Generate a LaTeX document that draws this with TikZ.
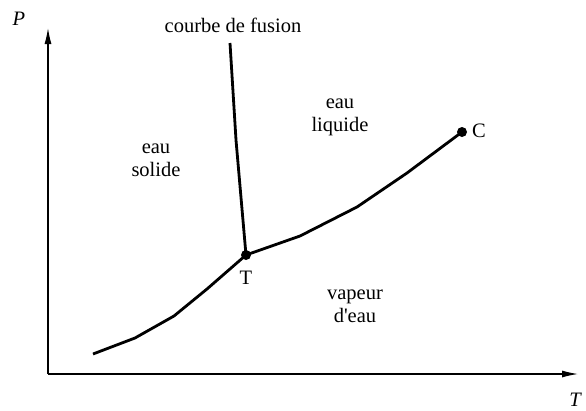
\documentclass[tikz,border=0pt]{standalone}
\usepackage{fontspec}
\setmainfont{Liberation Serif}
\usetikzlibrary{arrows.meta}
\begin{document}
\begin{tikzpicture}[x=1pt,y=-1pt,
  axis/.style={line width=1.2pt,-{Latex[length=16pt,width=7pt]}},
  curve/.style={line width=2.8pt,line join=round},
  lbl/.style={font=\fontsize{20.5}{23}\selectfont,align=center,inner sep=0pt},
  ilbl/.style={font=\fontsize{20.5}{23}\selectfont\itshape,inner sep=0pt},
  pt/.style={circle,fill=black,inner sep=0pt,minimum size=10pt}]
\useasboundingbox (0,0) rectangle (586,410);
% axes
\coordinate (O) at (48,374);
\coordinate (Ptop) at (48,28);
\coordinate (Tend) at (578,374);
\draw[axis] (O) -- (Ptop);
\draw[axis] (O) -- (Tend);
\node[ilbl] (Plab) at (19,19) {P};
\node[ilbl] (Tlab) at (575,400) {T};
% points
\coordinate (tp) at (246,255);
\coordinate (cp) at (462,132);
% curves
\coordinate (s1) at (93,354);
\coordinate (s2) at (135,338);
\coordinate (s3) at (174,316);
\coordinate (s4) at (207,289);
\draw[curve] (s1) -- (s2) -- (s3) -- (s4) -- (tp);
\coordinate (v1) at (300,236);
\coordinate (v2) at (357,207);
\coordinate (v3) at (407,173);
\draw[curve] (tp) -- (v1) -- (v2) -- (v3) -- (cp);
\coordinate (f1) at (230,43);
\coordinate (f2) at (236,140);
\draw[curve] (tp) -- (f2) -- (f1);
\node[pt] (TP) at (tp) {};
\node[pt] (CP) at (cp) {};
% labels
\node[lbl] (Tn) at (246,278) {T};
\node[lbl] (Cn) at (479,131) {C};
\node[lbl] (fus) at (233,25) {courbe de fusion};
\node[lbl] (sol) at (156,160) {eau\\solide};
\node[lbl] (liq) at (340,117) {eau\\liquide};
\node[lbl] (vap) at (355,306) {vapeur\\d\textquotesingle eau};
\end{tikzpicture}
\end{document}
